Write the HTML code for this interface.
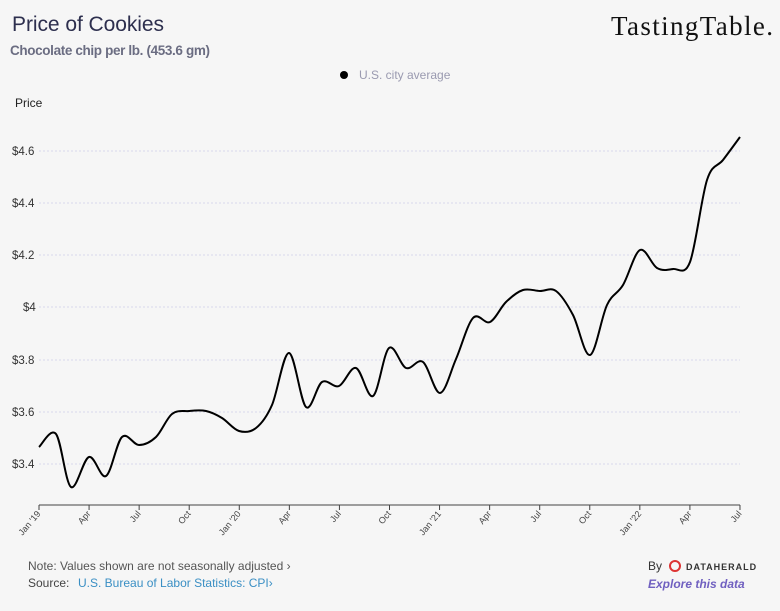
<!DOCTYPE html>
<html><head><meta charset="utf-8"><style>
body{margin:0;background:#f6f6f6;width:780px;height:606px;overflow:hidden;font-family:"Liberation Sans",sans-serif;}
</style></head><body>
<svg width="780" height="606" xmlns="http://www.w3.org/2000/svg" font-family="Liberation Sans, sans-serif">
<rect width="780" height="606" fill="#f6f6f6"/>
<text x="12" y="31" font-size="21" fill="#2d2f4e" textLength="152">Price of Cookies</text>
<text x="10" y="55" font-size="13.5" fill="#6b6d82" font-weight="bold" textLength="200">Chocolate chip per lb. (453.6 gm)</text>
<text x="611" y="35" font-size="27" fill="#111" style="font-family:'Liberation Serif',serif" textLength="162">TastingTable.</text>
<circle cx="344" cy="75" r="4" fill="#000"/>
<text x="359" y="79" font-size="12" fill="#9a9ab0">U.S. city average</text>
<text x="15" y="107" font-size="12" fill="#222">Price</text>
<g stroke="#d8d8ec" stroke-dasharray="2,2" stroke-width="1">
<line x1="39" x2="740" y1="151" y2="151"/><line x1="39" x2="740" y1="203" y2="203"/>
<line x1="39" x2="740" y1="255" y2="255"/><line x1="39" x2="740" y1="307" y2="307"/>
<line x1="39" x2="740" y1="360" y2="360"/><line x1="39" x2="740" y1="412" y2="412"/>
<line x1="39" x2="740" y1="464" y2="464"/></g>
<g font-size="11.5" fill="#333">
<text x="12" y="155">$4.6</text><text x="12" y="207">$4.4</text><text x="12" y="259">$4.2</text>
<text x="23" y="311">$4</text><text x="12" y="364">$3.8</text><text x="12" y="416">$3.6</text><text x="12" y="468">$3.4</text></g>
<line x1="39" x2="740" y1="505" y2="505" stroke="#444"/>
<g id="ticks"></g>
<path id="ln" fill="none" stroke="#000" stroke-width="2"/>
<text x="28" y="570" font-size="12" fill="#555">Note: Values shown are not seasonally adjusted ›</text>
<text x="28" y="587" font-size="12" fill="#444">Source:</text>
<text x="78" y="587" font-size="12" fill="#3a8fc4">U.S. Bureau of Labor Statistics: CPI›</text>
<text x="648" y="570" font-size="12" fill="#333">By</text>
<circle cx="675" cy="566" r="5" fill="none" stroke="#d33" stroke-width="2"/>
<text x="686" y="570" font-size="9" fill="#333" font-weight="bold" letter-spacing="1">DATAHERALD</text>
<text x="648" y="588" font-size="12" fill="#7060c0" font-style="italic" font-weight="bold">Explore this data</text>
</svg>
<script>
var p=[[39,447],[56,434],[71,487],[89,457],[106,476],[122,437],[139,445],[156,437],[172,414],[189,411],[206,411],[222,418],[239,431],[256,428],[272,405],[289,353],[306,407],[322,382],[339,386],[356,368],[373,396],[389,348],[406,368],[423,362],[440,393],[456,359],[473,318],[490,322],[506,302],[523,290],[540,291],[556,291],[573,315],[590,355],[607,305],[623,285],[640,250],[657,268],[673,269],[690,262],[707,180],[723,160],[740,137]];
var d="M"+p[0];
for(var i=0;i<p.length-1;i++){var a=p[Math.max(0,i-1)],b=p[i],c=p[i+1],e=p[Math.min(p.length-1,i+2)];
d+=" C"+(b[0]+(c[0]-a[0])/6)+","+(b[1]+(c[1]-a[1])/6)+" "+(c[0]-(e[0]-b[0])/6)+","+(c[1]-(e[1]-b[1])/6)+" "+c;}
document.getElementById("ln").setAttribute("d",d);
var L=["Jan '19","Apr","Jul","Oct","Jan '20","Apr","Jul","Oct","Jan '21","Apr","Jul","Oct","Jan '22","Apr","Jul"],s="";
for(var k=0;k<15;k++){var x=39+k*50.07;s+='<line x1="'+x+'" x2="'+x+'" y1="505" y2="510" stroke="#444"/><text font-size="9" fill="#444" text-anchor="end" transform="translate('+(x+2)+',514) rotate(-50)">'+L[k]+'</text>';}
document.getElementById("ticks").innerHTML=s;
</script>
</body></html>
